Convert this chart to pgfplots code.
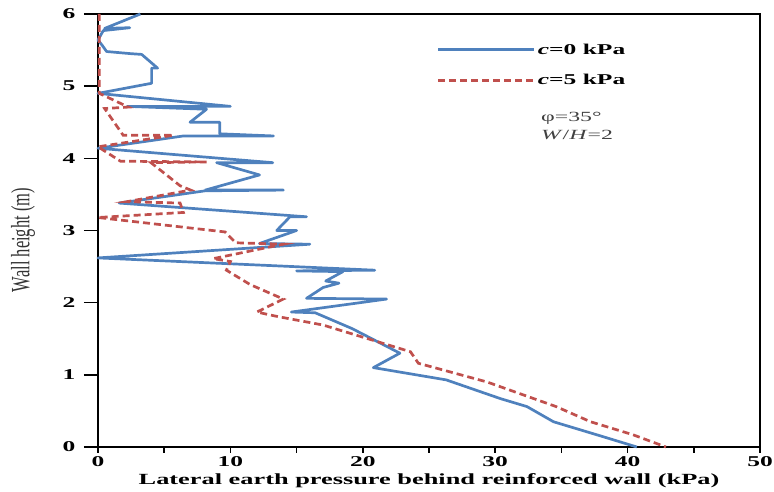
\documentclass[border=0pt]{standalone}
\usepackage{fontspec}
\setmainfont{Liberation Serif}[FakeStretch=1.7]
\newfontfamily\plainserif{Liberation Serif}
\usepackage{pgfplots}
\pgfplotsset{compat=1.18}
\definecolor{cblue}{HTML}{4F81BD}
\definecolor{cred}{HTML}{C0504D}
\begin{document}
\begin{tikzpicture}
\useasboundingbox (-98pt,-45pt) rectangle (676pt,447pt);
\begin{axis}[
  at={(0pt,0pt)}, anchor=south west,
  scale only axis, width=662pt, height=433pt,
  xmin=0, xmax=50, ymin=0, ymax=6,
  xtick={0,10,...,50}, minor xtick={5,15,...,45},
  ytick={0,1,...,6},
  tick pos=left, tick align=outside,
  major tick length=6pt, minor tick length=6pt,
  every tick/.style={black, line width=1.6pt},
  ytick style={/pgfplots/major tick length=14pt},
  axis line style={line width=1.6pt, black},
  clip=false,
  /pgf/number format/assume math mode=true,
  ticklabel style={font=\fontsize{15}{18}\selectfont\bfseries},
  yticklabel style={xshift=-13pt},
  xlabel={Lateral earth pressure behind reinforced wall (kPa)},
  xlabel style={font=\fontsize{15.5}{18}\selectfont\bfseries},
  ylabel={\plainserif\scalebox{1}[1.6]{Wall height (m)}},
  ylabel style={font=\fontsize{16.5}{18}\selectfont, text=black!80,
    at={(axis description cs:-0.113,0.478)}, anchor=center},
  legend style={draw=none, fill=none, at={(axis cs:25.6,5.62)}, anchor=north west,
    font=\fontsize{15}{18}\selectfont\bfseries, row sep=15pt, inner sep=0pt,
    cells={anchor=west}},
  legend image code/.code={\draw[#1] (0pt,0pt) -- (96pt,0pt);},
]
\addplot[cblue, line width=2.7pt, line join=round] coordinates {
(3.2,6.0) (0.5,5.80) (2.4,5.81) (0.4,5.77) (0.0,5.64) (0.3,5.57) (0.65,5.48)
(2.5,5.45) (3.3,5.44) (4.5,5.25) (4.05,5.25) (4.05,5.04) (0.0,4.90) (10.0,4.72)
(2.2,4.72) (8.2,4.68) (6.95,4.50) (9.2,4.50) (9.2,4.34) (13.25,4.31) (6.45,4.31)
(0.0,4.14) (13.2,3.94) (8.96,3.94) (12.2,3.77) (8.1,3.56) (14.0,3.56) (8.1,3.55)
(1.6,3.38) (15.75,3.19) (14.5,3.19) (13.5,3.0) (15.0,3.0) (12.2,2.82) (16.0,2.81)
(0.0,2.62) (20.9,2.45) (15.0,2.44) (18.5,2.43) (17.2,2.30) (18.2,2.27) (17.0,2.21)
(15.75,2.06) (21.8,2.05) (14.6,1.87) (16.4,1.86) (19.2,1.64) (22.8,1.30) (20.8,1.10)
(26.3,0.93) (30.4,0.67) (32.4,0.56) (34.4,0.35) (38.2,0.14) (40.7,0.0)
};
\addlegendentry{\textit{c}=0 kPa}
\addplot[cred, line width=2.7pt, dash pattern=on 7pt off 4pt] coordinates {
(0.1,6.0) (0.1,4.90) (2.3,4.71) (0.5,4.69) (1.9,4.32) (5.7,4.32) (0.0,4.16)
(1.7,3.96) (8.2,3.95) (4.0,3.94) (6.2,3.62) (7.0,3.56) (2.2,3.40) (6.2,3.38)
(6.45,3.25) (0.0,3.18) (9.6,2.98) (10.4,2.83) (14.0,2.81) (8.7,2.61) (10.0,2.57)
(9.7,2.45) (11.5,2.25) (14.0,2.05) (12.0,1.87) (13.5,1.81) (17.0,1.69) (23.6,1.32)
(24.2,1.16) (29.4,0.90) (34.6,0.56) (37.2,0.35) (40.4,0.17) (42.9,0.0)
};
\addlegendentry{\textit{c}=5 kPa}
\node[anchor=west, align=left, font=\fontsize{14}{18}\selectfont, text=black!75]
  at (axis cs:33.2,4.45) {φ=35°\\\textit{W}/\textit{H}=2};
\end{axis}
\end{tikzpicture}
\end{document}
